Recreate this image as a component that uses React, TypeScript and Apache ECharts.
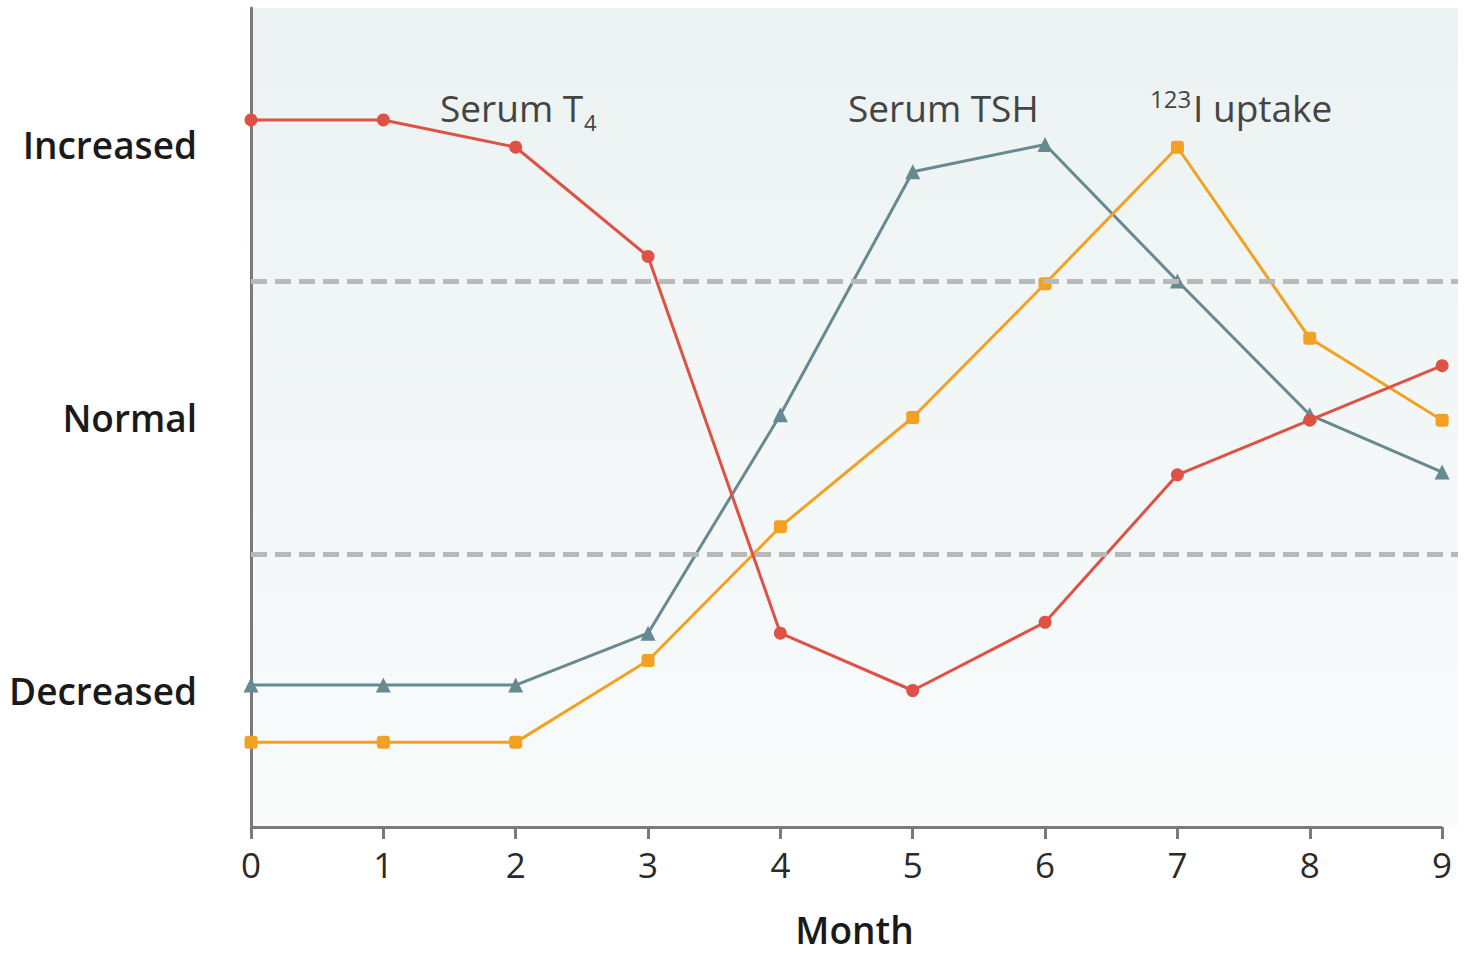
import React, { useEffect, useRef } from "react";
import * as echarts from "echarts";

const months = [0, 1, 2, 3, 4, 5, 6, 7, 8, 9];
const levelNames: Record<string, string> = { "0": "Decreased", "1": "Normal", "2": "Increased" };
const serumT4 = [2.09, 2.09, 1.99, 1.59, 0.21, 0.0, 0.25, 0.79, 0.99, 1.19];
const serumTSH = [0.02, 0.02, 0.02, 0.21, 1.01, 1.9, 2.0, 1.5, 1.01, 0.8];
const uptake = [-0.19, -0.19, -0.19, 0.11, 0.6, 1.0, 1.49, 1.99, 1.29, 0.99];
const normalBounds = [0.5, 1.5];

const FONT = "'Open Sans', 'Noto Sans', sans-serif";

export default function App() {
  const ref = useRef<HTMLDivElement>(null);
  useEffect(() => {
    if (!ref.current) return;
    const chart = echarts.init(ref.current, undefined, { renderer: "svg" });
    const pair = (vals: number[]) => months.map((m, i) => [m, vals[i]]);
    chart.setOption({
      animation: false,
      grid: {
        left: 251,
        right: 6,
        top: 8,
        bottom: 126,
        show: true,
        borderWidth: 0,
        backgroundColor: new echarts.graphic.LinearGradient(0, 0, 0, 1, [
          { offset: 0, color: "#ecf2f2" },
          { offset: 1, color: "#f9fbfb" },
        ]),
      },
      xAxis: {
        type: "value",
        min: 0,
        max: 9.12,
        interval: 1,
        name: "Month",
        nameLocation: "middle",
        nameGap: 84,
        nameTextStyle: {
          fontFamily: FONT,
          fontSize: 37,
          fontWeight: 600,
          color: "#1a1a1a",
          lineHeight: 37,
          verticalAlign: "top",
        },
        axisLine: { show: false, onZero: false },
        axisTick: {
          show: true,
          length: 12,
          customValues: months,
          lineStyle: { color: "#7a7a7a", width: 3 },
        },
        axisLabel: {
          customValues: months,
          margin: 20,
          fontFamily: FONT,
          fontSize: 35,
          color: "#2a2a2a",
        },
        splitLine: { show: false },
      },
      yAxis: {
        type: "value",
        min: -0.5,
        max: 2.5,
        interval: 0.5,
        axisLine: { show: true, onZero: false, lineStyle: { color: "#7a7a7a", width: 3 } },
        axisTick: { show: false },
        splitLine: { show: false },
        axisLabel: {
          margin: 54,
          fontFamily: FONT,
          fontSize: 37,
          fontWeight: 600,
          color: "#1a1a1a",
          formatter: (v: number) => levelNames[String(v)] ?? "",
        },
      },
      graphic: [
        {
          type: "text",
          x: 440,
          y: 107,
          style: { text: "Serum T", fontFamily: FONT, fontSize: 37, fill: "#444", verticalAlign: "middle" },
        },
        {
          type: "text",
          x: 584,
          y: 122,
          style: { text: "4", fontFamily: FONT, fontSize: 22, fill: "#444", verticalAlign: "middle" },
        },
        {
          type: "text",
          x: 848,
          y: 107,
          style: { text: "Serum TSH", fontFamily: FONT, fontSize: 37, fill: "#444", verticalAlign: "middle" },
        },
        {
          type: "text",
          x: 1150,
          y: 98,
          style: { text: "123", fontFamily: FONT, fontSize: 24, fill: "#444", verticalAlign: "middle" },
        },
        {
          type: "text",
          x: 1193,
          y: 107,
          style: { text: "I uptake", fontFamily: FONT, fontSize: 37, fill: "#444", verticalAlign: "middle" },
        },
      ],
      series: [
        {
          name: "Axis",
          type: "line",
          data: [],
          markLine: {
            silent: true,
            symbol: "none",
            label: { show: false },
            data: [
              ...normalBounds.map((b) => ({
                yAxis: b,
                lineStyle: { color: "#b9b9b9", width: 5, type: [16, 8] },
              })),
              [
                { coord: [months[0], -0.5], lineStyle: { color: "#7a7a7a", width: 3, type: "solid" } },
                { coord: [months[months.length - 1], -0.5] },
              ],
            ],
          },
        },
        {
          name: "Serum TSH",
          type: "line",
          data: pair(serumTSH),
          symbol: "triangle",
          symbolSize: 15,
          lineStyle: { color: "#678a90", width: 3 },
          itemStyle: { color: "#678a90" },
        },
        {
          name: "123I uptake",
          type: "line",
          data: pair(uptake),
          symbol: "roundRect",
          symbolSize: 13,
          lineStyle: { color: "#f2a122", width: 3 },
          itemStyle: { color: "#f2a122" },
        },
        {
          name: "Serum T4",
          type: "line",
          data: pair(serumT4),
          symbol: "circle",
          symbolSize: 13,
          lineStyle: { color: "#de5246", width: 3 },
          itemStyle: { color: "#de5246" },
        },
      ],
    });
    return () => chart.dispose();
  }, []);
  return (
    <div
      ref={ref}
      style={{ position: "absolute", left: 0, top: 0, width: 1464, height: 953, overflow: "hidden" }}
    />
  );
}
